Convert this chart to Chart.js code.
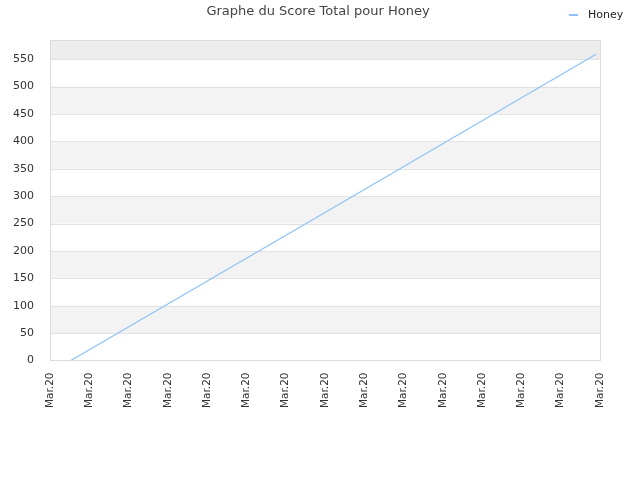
<!DOCTYPE html>
<html>
<head>
<meta charset="utf-8">
<script src="https://cdn.jsdelivr.net/npm/chart.js@4"></script>
<style>
  html, body { margin: 0; padding: 0; background: #fff; }
  #wrap { width: 640px; height: 480px; }
</style>
</head>
<body>
<div id="wrap"><canvas id="scoreChart"></canvas></div>
<script>
// donnees
const seriesName = 'Honey';
const dayPositions = [0.53, 7, 13.9];
const totalScores = [0, 270, 559];
const tickLabel = 'Mar.20';
const tickCount = 15;
const yTicks = [0, 50, 100, 150, 200, 250, 300, 350, 400, 450, 500, 550];

// bandes alternees, grille, titre et legende
const bandsPlugin = {
    id: 'bands',
    beforeDatasetsDraw(chart) {
        const { ctx, chartArea, scales } = chart;
        const y = scales.y;
        ctx.save();
        for (let i = 0; i < yTicks.length; i++) {
            const lo = yTicks[i];
            const hi = i + 1 < yTicks.length ? yTicks[i + 1] : y.max;
            let color = null;
            if (i === yTicks.length - 1) color = '#ededed';
            else if (i % 2 === 1) color = '#f3f3f3';
            if (!color) continue;
            const top = y.getPixelForValue(hi);
            const bottom = y.getPixelForValue(lo);
            ctx.fillStyle = color;
            ctx.fillRect(chartArea.left, top, chartArea.right - chartArea.left, bottom - top);
        }
        ctx.strokeStyle = '#e2e2e2';
        ctx.lineWidth = 1;
        yTicks.forEach(v => {
            const py = Math.round(y.getPixelForValue(v)) + 0.5;
            ctx.beginPath();
            ctx.moveTo(chartArea.left, py);
            ctx.lineTo(chartArea.right, py);
            ctx.stroke();
        });
        ctx.strokeStyle = '#dcdcdc';
        ctx.strokeRect(Math.round(chartArea.left) + 0.5, Math.round(chartArea.top) + 0.5,
            Math.round(chartArea.right - chartArea.left), Math.round(chartArea.bottom - chartArea.top));
        ctx.restore();
    },
    afterDraw(chart) {
        const ctx = chart.ctx;
        const ds = chart.data.datasets[0];
        ctx.save();
        ctx.font = '13px "DejaVu Sans", sans-serif';
        ctx.fillStyle = '#444';
        ctx.textAlign = 'center';
        ctx.textBaseline = 'middle';
        ctx.fillText('Graphe du Score Total pour Honey', 318, 12);
        // legende
        ctx.strokeStyle = ds.borderColor;
        ctx.lineWidth = 2;
        ctx.beginPath();
        ctx.moveTo(569, 15);
        ctx.lineTo(578, 15);
        ctx.stroke();
        ctx.font = '11px "DejaVu Sans", sans-serif';
        ctx.fillStyle = '#222';
        ctx.textAlign = 'left';
        ctx.fillText(ds.label, 588, 15);
        ctx.restore();
    }
};

const points = dayPositions.map((x, i) => ({ x: x, y: totalScores[i] }));

new Chart(document.getElementById('scoreChart'), {
    type: 'line',
    data: {
        datasets: [{
            label: seriesName,
            data: points,
            borderColor: '#8fc3f5',
            backgroundColor: '#8fc3f5',
            borderWidth: 1.3,
            pointRadius: 0,
            tension: 0,
            fill: false
        }]
    },
    options: {
        responsive: true,
        maintainAspectRatio: false,
        animation: false,
        layout: { padding: { left: 0, right: 40, top: 40, bottom: 68 } },
        plugins: {
            title: { display: false },
            tooltip: { enabled: false },
            legend: { display: false }
        },
        scales: {
            x: {
                type: 'linear',
                min: 0,
                max: tickCount - 1,
                afterBuildTicks(axis) {
                    axis.ticks = Array.from({ length: tickCount }, (_, i) => ({ value: i }));
                },
                grid: { display: false },
                border: { display: false },
                ticks: {
                    autoSkip: false,
                    maxRotation: 90,
                    minRotation: 90,
                    padding: 4,
                    color: '#333',
                    font: { family: '"DejaVu Sans", sans-serif', size: 10.5 },
                    callback: () => tickLabel
                }
            },
            y: {
                min: 0,
                max: 585,
                afterBuildTicks(axis) {
                    axis.ticks = yTicks.map(v => ({ value: v }));
                },
                afterFit(axis) { axis.width = 50; },
                grid: { display: false },
                border: { display: false },
                ticks: {
                    padding: 8,
                    color: '#333',
                    font: { family: '"DejaVu Sans", sans-serif', size: 11 }
                }
            }
        }
    },
    plugins: [bandsPlugin]
});
</script>
</body>
</html>
